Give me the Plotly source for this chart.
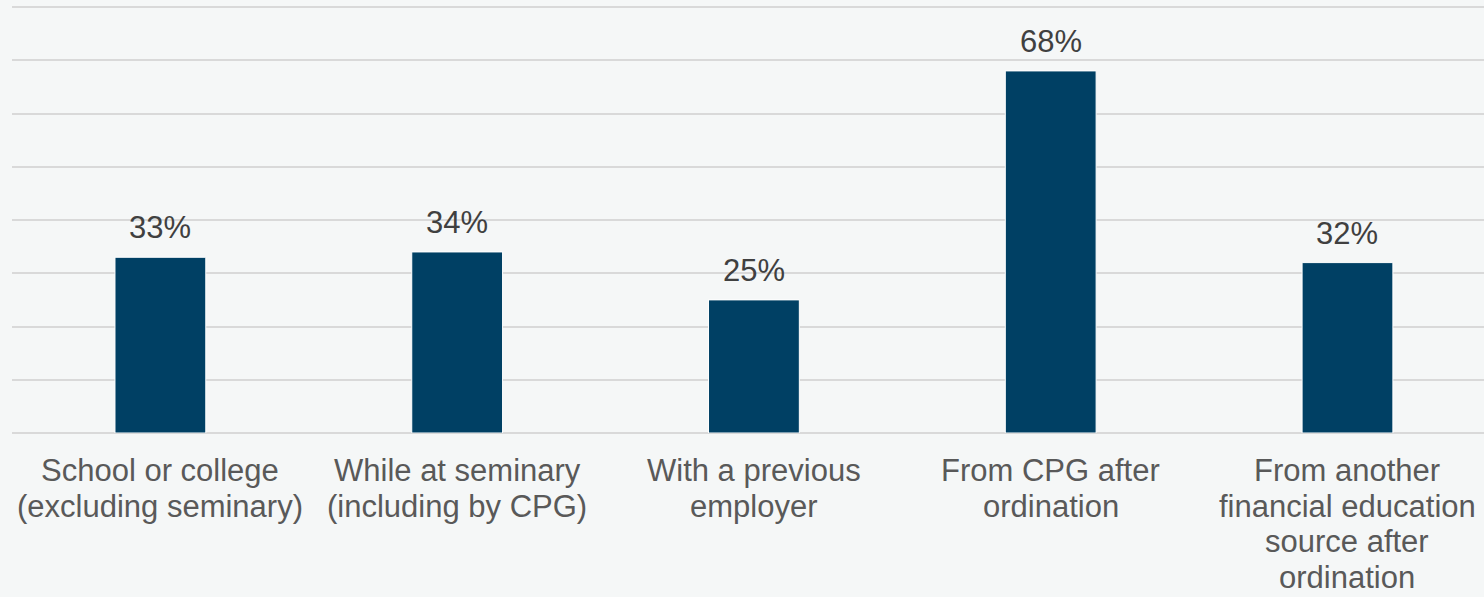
import plotly.graph_objects as go

# Where clergy received financial education (share of respondents, %)
categories = [
    "School or college<br>(excluding seminary)",
    "While at seminary<br>(including by CPG)",
    "With a previous<br>employer",
    "From CPG after<br>ordination",
    "From another<br>financial education<br>source after<br>ordination",
]
values = [33, 34, 25, 68, 32]

BAR_COLOR = "#004064"
BG = "#f5f7f7"
GRID = "#d9d9d9"
FONT = "Arial, Liberation Sans, sans-serif"

fig = go.Figure(
    go.Bar(
        x=list(range(len(categories))),
        y=values,
        marker=dict(color=BAR_COLOR, line=dict(color="#ffffff", width=1)),
        hoverinfo="skip",
    )
)

annotations = []
# value labels above each bar
for i, v in enumerate(values):
    annotations.append(dict(
        x=i, y=v, xref="x", yref="y", text=f"{v}%", showarrow=False,
        yanchor="bottom", yshift=10,
        font=dict(family=FONT, size=31, color="#404040"),
    ))
# category labels under the axis, one line each for tight line spacing
for i, cat in enumerate(categories):
    for j, line in enumerate(cat.split("<br>")):
        annotations.append(dict(
            x=i, y=0, xref="x", yref="paper", text=line, showarrow=False,
            yanchor="bottom", yshift=-57 - 35.5 * j,
            font=dict(family=FONT, size=31, color="#595959"),
        ))

fig.update_layout(
    width=1484, height=597,
    margin=dict(l=12, r=0, t=6, b=164),
    paper_bgcolor=BG, plot_bgcolor=BG,
    bargap=0.694,
    showlegend=False,
    annotations=annotations,
    xaxis=dict(
        range=[-0.5, 4.46], showticklabels=False, showgrid=False,
        zeroline=False, showline=False, ticks="",
    ),
    yaxis=dict(
        range=[0, 80.19], tickvals=[0, 10, 20, 30, 40, 50, 60, 70, 80],
        showticklabels=False,
        gridcolor=GRID, gridwidth=1.5,
        zeroline=True, zerolinecolor=GRID, zerolinewidth=1.5,
        showline=False, ticks="",
    ),
)

fig.write_html("out.html")
